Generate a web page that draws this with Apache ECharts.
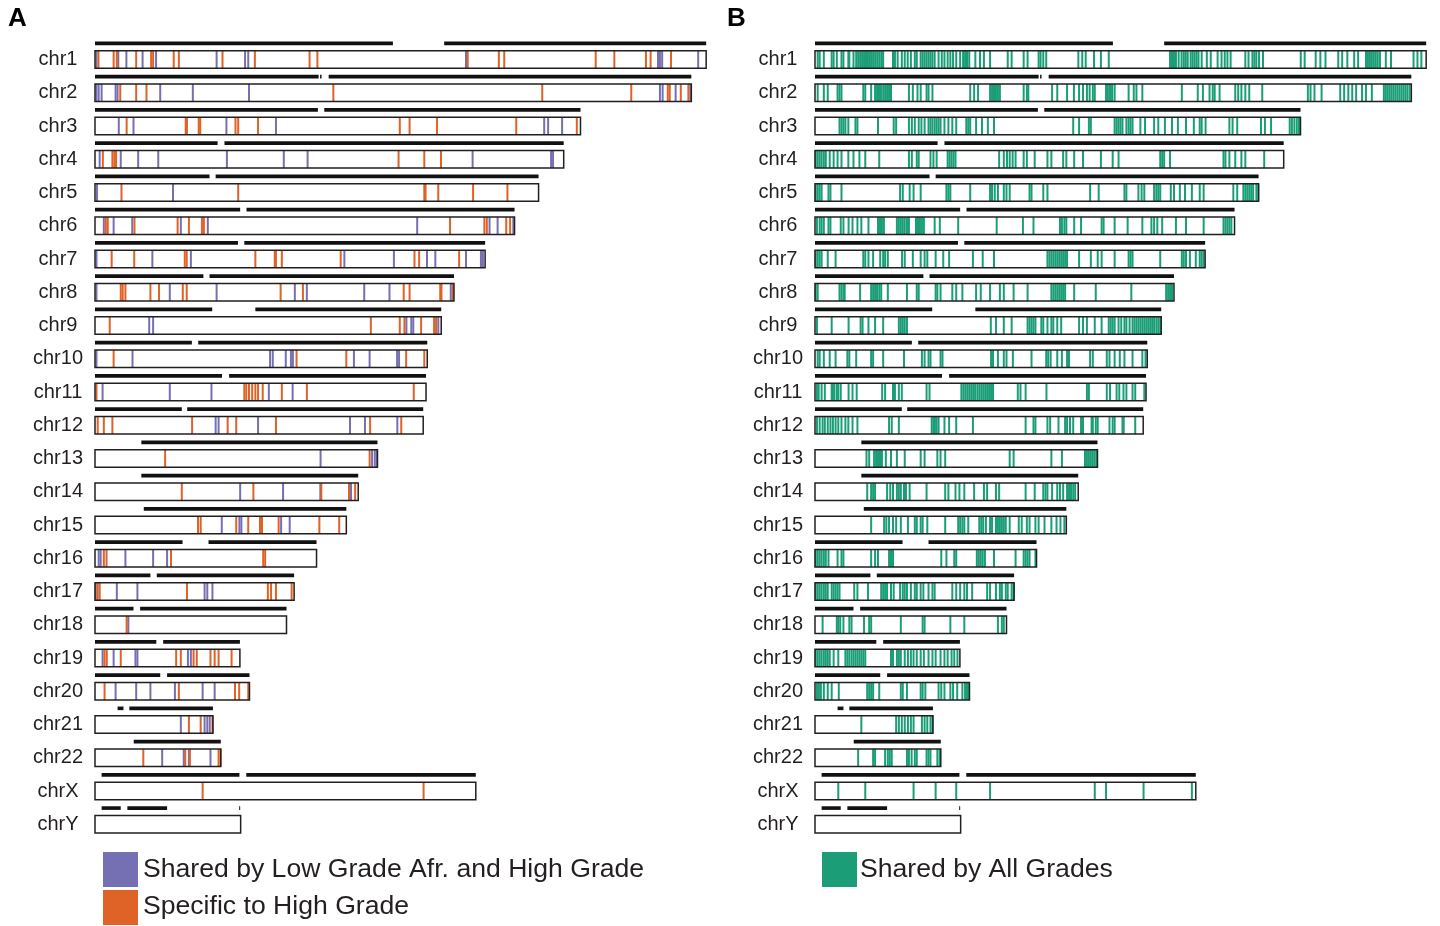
<!DOCTYPE html>
<html>
<head>
<meta charset="utf-8">
<script src="https://cdn.jsdelivr.net/npm/echarts@6/dist/echarts.min.js"></script>
<style>html,body{margin:0;padding:0;background:#fff;}#chart{width:1440px;height:926px;}</style>
</head>
<body>
<div id="chart"></div>
<script>
// ---------- DATA (positions in Mb) ----------
const CHROMS = ['chr1','chr2','chr3','chr4','chr5','chr6','chr7','chr8','chr9','chr10','chr11','chr12','chr13','chr14','chr15','chr16','chr17','chr18','chr19','chr20','chr21','chr22','chrX','chrY'];
const CHROM_LEN = [249.25,243.2,198.0,191.15,180.9,171.1,159.1,146.4,141.2,135.5,135.0,133.85,115.2,107.35,102.5,90.35,81.2,78.1,59.1,63.0,48.1,51.3,155.3,59.4];
const ARMS = [
  [[0,121.5],[142.4,249.25]],
  [[0,91.2],[91.8,92.4],[95.3,243.2]],
  [[0,90.9],[93.5,198.0]],
  [[0,50.0],[52.8,191.15]],
  [[0,46.7],[49.2,180.9]],
  [[0,59.2],[61.8,171.1]],
  [[0,58.3],[60.9,159.1]],
  [[0,44.2],[46.7,146.4]],
  [[0,47.8],[65.4,141.2]],
  [[0,39.5],[42.1,135.5]],
  [[0,51.8],[54.7,135.0]],
  [[0,35.4],[37.6,133.85]],
  [[18.9,115.2]],
  [[18.9,107.35]],
  [[19.9,102.5]],
  [[0,35.7],[46.3,90.35]],
  [[0,22.6],[25.2,81.2]],
  [[0,15.7],[18.4,78.1]],
  [[0,25.0],[27.8,59.1]],
  [[0,26.6],[29.4,63.0]],
  [[9.2,11.6],[14.0,48.1]],
  [[15.8,51.3]],
  [[2.7,58.9],[61.7,155.3]],
  [[2.7,10.5],[13.2,29.4],[58.8,59.2]]
];
// Panel A: shared by Low Grade Afr. and High Grade
const SHARED_LOW_HIGH = [
  [0.6,9.5,12.8,19.4,24.9,49.6,61.2,62.5,151.3,229.6,230.4,231.3,246.0],
  [0.6,1.5,2.7,8.4,9.2,26.6,39.9,62.8,230.4,231.5,236.8,242.8],
  [9.7,15.7,53.6,73.8,183.2,184.8,190.5],
  [1.9,10.5,17.6,25.8,53.8,77.0,86.7,154.0,186.0,186.8],
  [0.8,31.8],
  [3.6,7.6,15.2,35.0,46.0,131.4,160.9,164.2,170.6],
  [0.6,23.4,39.1,101.7,121.9,135.4,138.8,151.3,157.4,158.2],
  [0.6,30.5,49.6,81.5,86.4,109.8,120.1,145.1],
  [22.1,23.7,127.0,129.0,129.8,140.0],
  [0.6,15.3,71.4,72.5,77.8,79.9,80.7,105.6,112.0,123.2,124.0],
  [3.1,30.5,47.5,70.9,80.6],
  [49.2,50.4,66.5,104.0,110.1,123.3],
  [92.0,113.0,114.1,114.9],
  [59.2,76.7,91.9,104.4],
  [51.7,58.9,59.7,75.9,79.4],
  [1.5,2.3,12.4,23.7,29.4],
  [0.3,8.9,17.3,44.7,45.8,47.9],
  [13.6],
  [3.1,7.6,16.5,17.3,37.9,39.1],
  [8.4,16.8,22.6,32.6,43.9,48.8],
  [35.0,44.7,45.8,46.8],
  [27.4,36.2,38.3,47.1],
  [],
  []
];
// Panel A: specific to High Grade
const SPECIFIC_HIGH = [
  [1.4,7.6,8.9,16.8,22.9,23.7,32.1,34.2,52.0,65.2,87.5,90.7,152.0,164.7,166.9,204.2,211.8,224.7,226.6,234.9],
  [10.3,16.8,21.0,97.2,182.4,218.7,233.6,234.4,238.9,242.0],
  [12.9,37.0,37.5,42.3,42.9,57.3,58.4,66.5,124.3,128.3,139.5,171.8,196.5],
  [3.2,7.1,7.9,8.6,123.8,134.3,141.1],
  [10.8,58.4,134.3,134.8,140.0,154.2,168.2],
  [4.4,5.2,16.1,33.7,38.3,43.6,44.4,144.8,158.8,159.8,167.7,169.3],
  [6.8,16.0,36.6,37.4,65.4,73.3,73.8,76.2,100.2,130.3,132.2,148.5],
  [10.5,11.3,12.4,22.6,26.1,35.8,37.4,75.7,84.8,125.9,128.3,140.8,141.3,145.9],
  [6.0,112.5,124.3,126.2,133.0,138.3,139.1],
  [7.6,82.2,102.5,126.9,134.3],
  [0.6,60.9,61.7,62.8,64.1,65.4,66.5,68.4,76.2,86.4,130.0],
  [1.1,3.6,7.1,39.6,54.1,57.6,73.8,112.2,124.9],
  [28.6,112.0],
  [35.4,64.6,92.3,103.6,106.1],
  [42.0,43.1,57.6,62.5,67.3,68.1,74.9,91.5,99.6],
  [3.6,4.7,31.0,68.6,69.4],
  [1.1,1.9,37.5,70.5,71.8,73.8,80.2],
  [12.9],
  [3.9,4.8,10.5,33.1,35.0,40.2,41.5,47.1,48.8,50.4,55.7],
  [3.9,34.2,57.1,58.8,62.5],
  [38.3,43.1,47.9],
  [19.7,36.8,38.7,50.4,51.2],
  [43.9,134.0],
  []
];
// Panel B: shared by all grades
const SHARED_ALL = [
  [1.1,1.9,3.6,6.8,7.6,8.9,10.8,11.6,13.6,14.0,15.7,16.8,17.6,18.4,19.2,20.0,20.8,21.6,22.4,23.2,24.0,24.8,25.6,26.4,27.2,27.8,31.8,32.6,33.7,35.4,36.6,37.8,39.1,40.7,41.5,43.1,43.9,44.7,45.5,46.3,47.1,47.9,48.8,50.4,51.7,52.8,54.1,55.2,56.3,57.6,59.2,60.4,61.2,62.0,62.9,65.4,67.3,68.9,71.4,78.6,80.2,85.1,86.7,91.2,92.0,93.1,94.3,107.4,109.0,110.4,113.8,116.6,119.8,144.8,145.6,146.4,147.2,148.3,149.5,150.4,151.2,152.0,153.2,154.0,154.8,155.6,156.4,157.7,159.8,161.4,164.2,165.8,167.1,168.2,169.5,175.5,176.8,178.4,179.2,180.0,181.1,182.7,198.1,199.7,204.2,206.1,208.2,213.4,215.0,217.1,219.9,221.5,224.7,225.5,226.3,227.1,227.9,228.7,229.5,230.4,232.8,234.9,244.1,245.7,247.3],
  [1.1,3.6,5.2,9.2,10.0,10.8,19.7,20.5,22.9,24.5,25.3,26.1,26.9,27.8,28.6,29.4,30.2,31.0,38.3,39.9,41.8,43.1,45.5,46.3,47.9,63.3,64.9,66.5,71.4,72.2,73.0,73.8,74.6,75.4,85.1,86.4,87.0,96.7,98.8,102.8,105.6,107.7,109.3,110.9,112.0,113.3,114.1,118.7,119.3,120.0,120.6,121.2,122.2,127.9,130.0,131.1,133.5,149.6,156.1,158.2,160.9,162.2,163.0,165.0,171.4,172.6,173.9,175.5,177.1,182.4,201.0,202.1,203.7,206.6,214.2,215.8,217.5,219.1,220.7,223.1,224.7,227.1,232.0,232.8,233.6,234.4,235.2,236.0,236.8,237.6,238.4,239.2,240.0,240.8,241.6,242.5],
  [10.0,10.8,11.6,12.4,13.6,16.5,17.3,25.7,32.1,33.1,38.3,39.5,40.7,42.3,43.4,44.7,46.3,47.1,47.9,48.8,49.6,50.4,51.2,52.8,54.4,56.0,57.6,61.7,62.5,63.3,65.7,68.1,70.5,73.0,105.3,107.7,111.7,112.5,122.2,123.0,123.8,124.6,125.4,127.0,127.9,128.7,129.5,132.7,134.6,138.3,140.0,142.7,145.6,148.0,151.3,154.5,156.9,157.7,159.3,169.0,170.3,172.2,181.9,183.5,186.0,193.6,194.5,195.5,196.5,197.4],
  [0.3,1.1,1.9,2.7,3.6,4.4,6.0,7.6,9.2,10.8,13.6,15.7,18.1,20.5,26.2,38.3,39.5,41.5,42.3,47.1,48.3,49.6,54.1,54.9,55.7,56.5,57.3,75.1,77.0,78.3,79.4,80.6,81.8,85.1,86.4,89.6,94.8,96.4,101.2,102.5,105.7,109.3,116.6,121.4,123.8,140.8,141.6,142.4,144.8,166.6,167.4,169.0,171.4,173.9,175.5,183.2],
  [0.3,1.1,1.9,2.7,5.5,6.3,10.8,34.7,35.8,38.6,40.2,43.1,53.6,54.4,55.2,63.3,71.4,72.2,73.3,74.6,77.0,78.1,79.4,87.5,88.3,93.1,94.8,112.2,115.7,126.2,127.0,131.9,133.2,134.3,138.3,139.2,140.0,140.8,145.1,146.4,148.8,150.9,153.7,156.9,158.5,170.6,172.2,174.7,175.5,176.3,177.1,177.9,178.7,180.0,180.8],
  [0.8,1.9,2.7,3.6,5.5,6.3,10.5,11.6,13.7,15.3,17.3,18.9,21.8,25.7,26.5,27.3,28.1,33.4,34.2,35.0,35.8,36.6,37.5,38.3,41.2,42.0,42.8,43.6,44.4,48.8,50.9,58.4,74.1,84.8,89.1,99.9,100.7,101.7,102.5,105.7,108.5,116.9,117.7,122.2,127.5,133.5,137.2,138.3,139.6,141.6,147.2,151.3,158.5,166.6,167.4,168.2,169.0,169.8],
  [0.3,1.1,1.9,2.7,5.2,8.4,19.7,20.5,21.8,23.7,26.6,27.8,28.6,29.7,35.5,36.6,39.9,43.1,44.7,45.8,49.2,52.3,54.7,64.4,68.4,73.0,94.8,95.6,96.4,97.2,98.0,98.8,99.6,100.4,101.2,102.0,102.8,107.7,112.5,115.3,116.9,122.2,127.9,128.7,129.5,140.8,149.6,150.4,151.3,152.9,155.3,156.9,157.7,158.5],
  [0.3,1.1,10.0,10.8,11.6,12.1,18.4,22.9,23.7,24.5,25.3,26.2,27.0,29.7,37.5,41.5,42.3,49.2,49.9,51.2,56.0,57.6,60.1,65.7,67.6,71.4,75.4,77.0,81.0,86.7,96.4,97.2,98.0,98.8,99.6,100.4,101.2,102.0,105.7,114.5,129.0,143.2,144.0,144.8,145.6],
  [0.8,6.8,13.7,18.6,19.4,21.8,24.5,27.8,34.2,35.0,35.8,36.6,37.5,71.7,73.8,77.0,80.2,86.7,87.5,88.3,89.1,89.9,92.3,93.1,94.8,96.4,97.2,98.8,100.4,107.7,109.3,110.9,114.1,116.9,119.8,120.6,121.4,122.2,123.8,124.9,126.2,127.0,128.3,129.5,130.3,131.1,131.9,132.7,133.5,134.3,135.1,135.9,136.7,137.5,138.3,139.2,140.0,140.8],
  [1.1,1.9,3.6,6.0,8.4,13.2,14.0,16.8,22.9,23.7,27.8,36.3,43.6,44.7,46.3,47.1,51.2,52.0,71.8,72.6,74.6,77.0,78.1,80.7,88.3,94.3,95.1,96.1,98.8,100.7,102.8,103.6,112.2,113.3,119.0,120.1,122.2,124.3,126.2,129.5,133.5,134.8],
  [0.8,1.5,2.7,4.0,6.8,7.3,7.9,8.9,9.5,10.5,13.7,15.3,17.0,27.4,28.6,31.8,32.6,34.2,35.4,45.5,46.7,59.7,60.5,61.3,62.1,62.9,63.7,64.5,65.3,66.2,67.0,67.8,68.6,69.4,70.2,71.0,71.8,72.6,82.7,83.8,85.9,94.4,110.9,111.7,119.0,120.3,123.0,124.1,125.8,127.0,129.5,130.6,134.3],
  [0.8,1.9,3.1,4.0,5.2,6.3,7.3,8.4,9.5,10.8,12.4,13.6,15.3,17.3,30.2,31.3,34.2,47.6,48.3,48.9,49.6,50.4,52.8,54.7,57.6,64.4,85.9,89.1,89.9,94.8,95.9,99.3,102.0,102.8,104.0,105.3,108.5,109.3,112.8,113.3,114.5,115.3,120.1,121.4,122.2,125.4,125.9,130.6],
  [21.0,22.1,24.1,24.9,25.7,26.5,27.3,28.9,31.0,33.4,36.6,43.1,44.7,49.9,51.2,53.1,79.4,81.0,96.4,100.7,110.1,110.9,111.7,112.5,113.3,114.1,114.9],
  [21.3,22.9,23.7,24.5,29.4,30.7,31.8,33.4,34.2,35.0,36.3,37.1,38.6,45.5,53.1,54.4,57.3,58.9,60.9,64.9,68.9,70.2,73.8,75.1,85.9,89.6,93.1,94.0,94.8,96.7,98.8,99.9,101.2,102.8,103.6,104.4,105.3,106.1],
  [22.9,28.2,29.1,30.2,31.8,33.1,35.0,37.9,40.7,41.5,43.1,43.9,45.8,53.1,58.4,59.2,60.1,60.9,62.5,67.0,67.8,68.6,69.7,71.4,72.2,73.8,74.6,75.4,76.2,77.0,77.8,79.4,83.1,84.3,86.4,87.5,89.9,91.2,93.6,96.4,98.5,100.1,101.7],
  [0.3,1.1,1.9,2.7,3.6,4.4,5.5,9.2,10.8,11.6,22.9,24.5,25.7,30.2,31.0,31.8,51.5,53.6,56.8,57.6,66.0,66.8,67.6,68.4,69.3,73.0,81.8,85.1,85.9,86.7,87.5,89.9],
  [0.3,1.1,1.9,2.7,3.6,4.4,5.2,6.8,7.6,8.4,9.2,10.0,16.0,17.3,21.6,27.0,27.8,28.6,29.4,31.0,32.1,34.7,35.8,36.6,37.5,39.1,40.7,41.5,43.1,44.2,46.3,47.9,48.8,56.0,57.6,59.2,60.9,62.0,64.1,70.2,71.4,73.8,75.4,76.2,77.8,78.6,80.2,81.0],
  [3.1,8.9,9.5,10.3,11.6,14.0,14.9,20.0,22.1,22.9,35.0,43.9,44.7,55.2,60.9,74.6,76.2,77.0],
  [0.3,1.1,1.9,2.7,3.6,4.4,5.2,6.0,7.6,9.5,12.4,13.2,14.0,14.9,15.7,16.5,17.3,18.1,18.9,19.7,20.5,31.0,31.8,33.4,34.2,35.0,36.6,37.9,39.1,40.2,41.5,43.1,44.4,46.3,47.9,49.2,51.2,52.8,54.1,55.7,56.8,58.1],
  [0.8,1.6,2.4,3.6,5.2,6.8,9.7,21.3,22.1,22.9,23.7,26.2,35.0,35.8,37.5,43.1,43.9,45.0,50.4,51.5,52.8,55.2,56.3,58.0,60.1,61.2,62.0,62.8],
  [18.9,33.1,34.2,35.4,36.6,37.9,39.1,40.2,43.6,44.7,45.8,47.1,47.9],
  [17.6,23.7,24.5,28.6,29.7,30.5,31.3,37.5,38.3,39.4,40.7,41.5,45.5,46.3,47.1,49.9,50.8],
  [9.5,20.5,40.2,49.2,57.6,71.4,114.1,118.7,134.0,153.7],
  []
];
const LEGEND_A = ['Shared by Low Grade Afr. and High Grade', 'Specific to High Grade'];
const LEGEND_B = ['Shared by All Grades'];
const PANEL_LABELS = ['A', 'B'];

// ---------- STYLE ----------
const C_PURPLE = '#7570B3', C_ORANGE = '#DF6227', C_GREEN = '#1B9E77', C_INK = '#231F20';
const FONT = '"Liberation Sans", Arial, Helvetica, sans-serif';

function flatMarks(arr) {
  const out = [];
  arr.forEach((list, i) => list.forEach(p => out.push([i, p])));
  return out;
}
const chromData = CHROMS.map((c, i) => [i, CHROM_LEN[i]]);
const armData = [];
ARMS.forEach((segs, i) => segs.forEach(s => armData.push([i, s[0], s[1]])));

function rectItem(fill, stroke) {
  return function (params, api) {
    const i = api.value(0), len = api.value(1);
    const p0 = api.coord([0, i]), p1 = api.coord([len, i]);
    const h = api.size([0, 1])[1] * 0.53;
    return { type: 'rect', shape: { x: p0[0], y: p0[1] - h / 2, width: p1[0] - p0[0], height: h },
      style: { fill: fill, stroke: stroke, lineWidth: 1.5 } };
  };
}
function armItem(params, api) {
  const i = api.value(0);
  const p0 = api.coord([api.value(1), i]), p1 = api.coord([api.value(2), i]);
  const off = api.size([0, 1])[1] * 0.487;
  return { type: 'line', shape: { x1: p0[0], y1: p0[1] - off, x2: p1[0], y2: p1[1] - off },
    style: { stroke: '#111', lineWidth: 3.6, lineCap: 'butt' } };
}
function markItem(color) {
  return function (params, api) {
    const i = api.value(0);
    const p = api.coord([api.value(1), i]);
    const h = api.size([0, 1])[1] * 0.53;
    return { type: 'line', shape: { x1: p[0], y1: p[1] - h / 2, x2: p[0], y2: p[1] + h / 2 },
      style: { stroke: color, lineWidth: 2 } };
  };
}

function panelSeries(g, markSets) {
  const s = [];
  s.push({ type: 'custom', xAxisIndex: g, yAxisIndex: g, data: chromData, renderItem: rectItem('#fff', null), encode: { x: 1, y: 0 }, z: 1, silent: true });
  markSets.forEach(ms => s.push({ type: 'custom', xAxisIndex: g, yAxisIndex: g, data: flatMarks(ms.data), renderItem: markItem(ms.color), encode: { x: 1, y: 0 }, z: 2, silent: true }));
  s.push({ type: 'custom', xAxisIndex: g, yAxisIndex: g, data: chromData, renderItem: rectItem(null, C_INK), encode: { x: 1, y: 0 }, z: 3, silent: true });
  s.push({ type: 'custom', xAxisIndex: g, yAxisIndex: g, data: armData, renderItem: armItem, encode: { x: [1, 2], y: 0 }, z: 3, silent: true });
  return s;
}

const yAxisBase = (g) => ({
  gridIndex: g, type: 'category', data: CHROMS, inverse: true,
  axisLine: { show: false }, axisTick: { show: false }, splitLine: { show: false },
  axisLabel: { align: 'center', margin: 37, fontSize: 20, color: C_INK, fontFamily: FONT, verticalAlign: 'middle', padding: [0, 0, 4, 0] }
});

const option = {
  animation: false,
  backgroundColor: '#fff',
  grid: [
    { left: 95, top: 42.9, width: 613, height: 798 },
    { left: 815, top: 42.9, width: 613, height: 798 }
  ],
  xAxis: [
    { gridIndex: 0, type: 'value', min: 0, max: 250, show: false },
    { gridIndex: 1, type: 'value', min: 0, max: 250, show: false }
  ],
  yAxis: [yAxisBase(0), yAxisBase(1)],
  series: [].concat(
    panelSeries(0, [{ data: SHARED_LOW_HIGH, color: C_PURPLE }, { data: SPECIFIC_HIGH, color: C_ORANGE }]),
    panelSeries(1, [{ data: SHARED_ALL, color: C_GREEN }])
  ),
  graphic: [
    { type: 'text', style: { x: 8, y: 19, text: PANEL_LABELS[0], font: 'bold 26px ' + FONT, fill: '#000', verticalAlign: 'middle' } },
    { type: 'text', style: { x: 727, y: 19, text: PANEL_LABELS[1], font: 'bold 26px ' + FONT, fill: '#000', verticalAlign: 'middle' } },
    { type: 'rect', shape: { x: 103, y: 852, width: 35, height: 35 }, style: { fill: C_PURPLE } },
    { type: 'text', style: { x: 143, y: 870, text: LEGEND_A[0], font: '26.6px ' + FONT, fill: C_INK, verticalAlign: 'middle' } },
    { type: 'rect', shape: { x: 103, y: 890, width: 35, height: 35 }, style: { fill: C_ORANGE } },
    { type: 'text', style: { x: 143, y: 907, text: LEGEND_A[1], font: '26.6px ' + FONT, fill: C_INK, verticalAlign: 'middle' } },
    { type: 'rect', shape: { x: 822, y: 852, width: 35, height: 35 }, style: { fill: C_GREEN } },
    { type: 'text', style: { x: 860, y: 870, text: LEGEND_B[0], font: '26.6px ' + FONT, fill: C_INK, verticalAlign: 'middle' } }
  ]
};
const chart = echarts.init(document.getElementById('chart'), null, { renderer: 'canvas' });
chart.setOption(option);
</script>
</body>
</html>
